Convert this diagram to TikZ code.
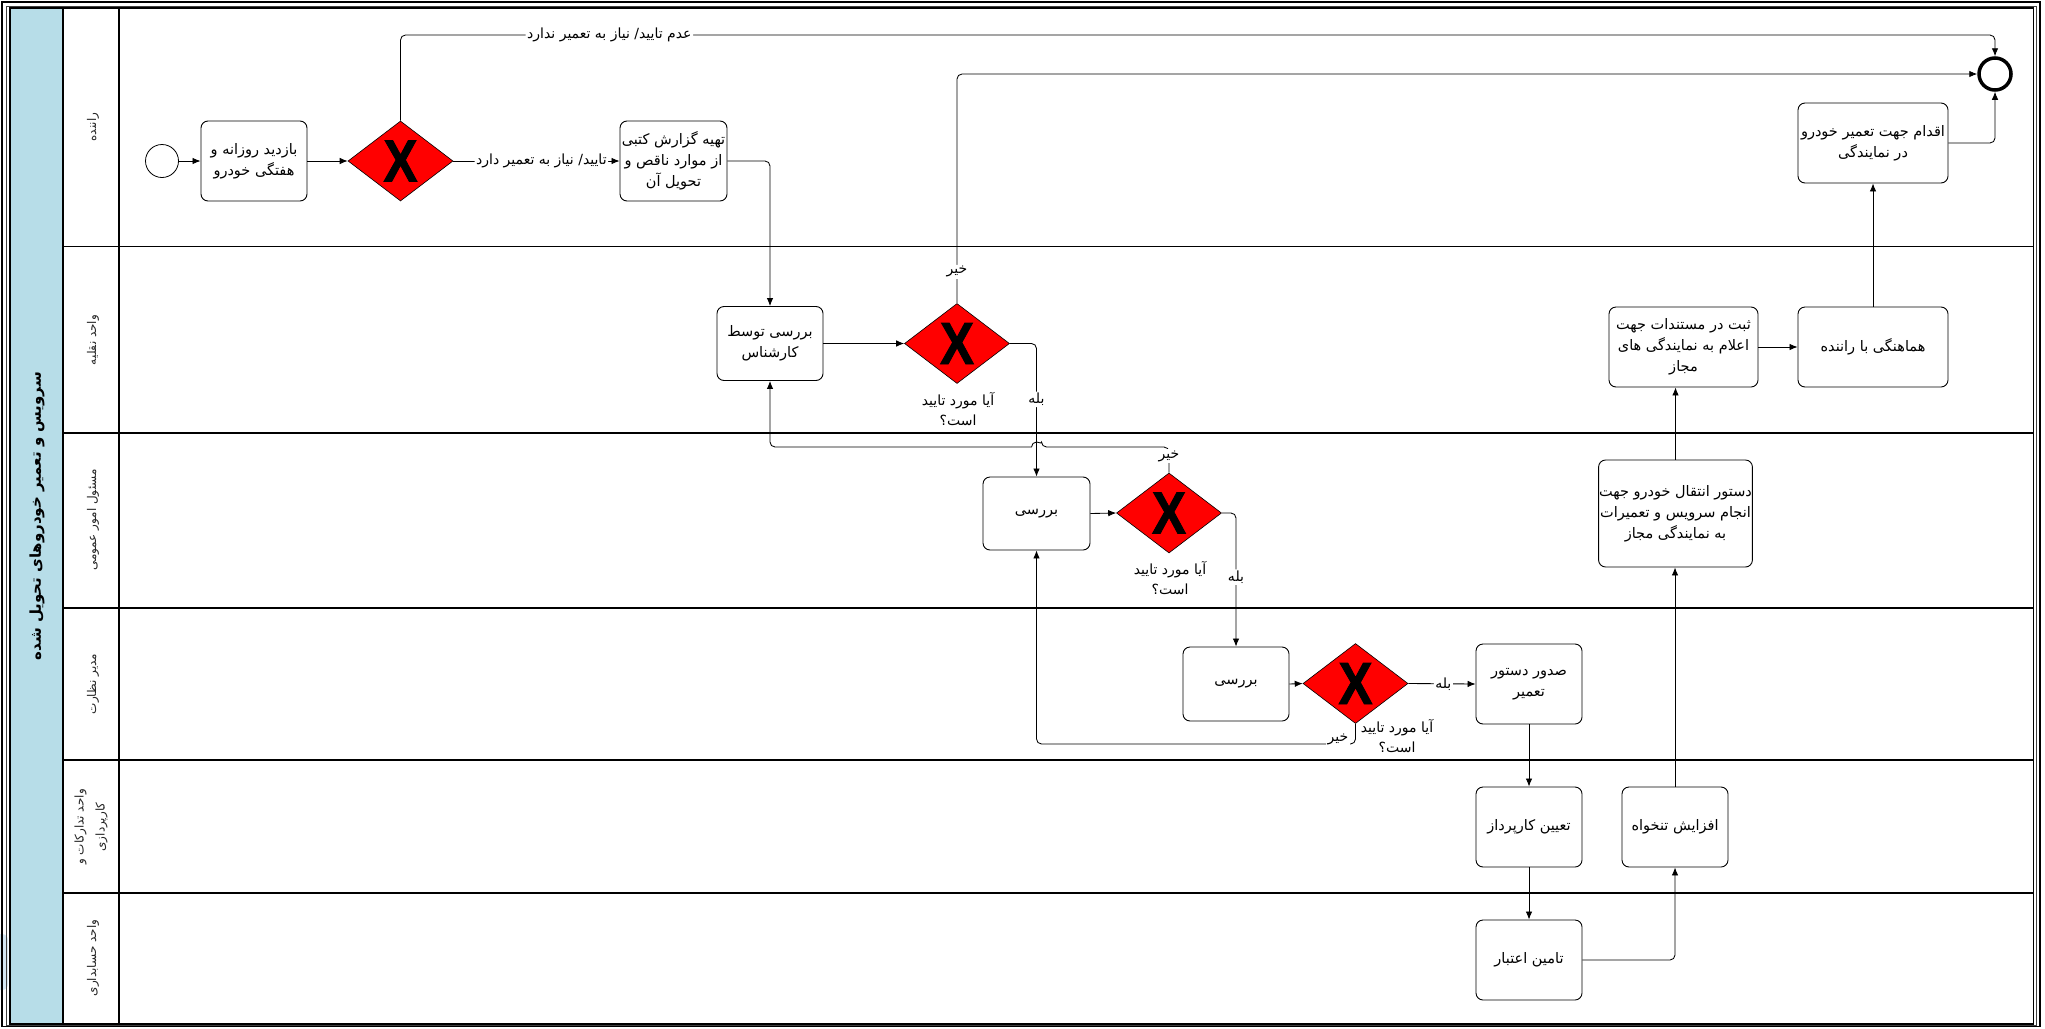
\documentclass[tikz,border=0pt]{standalone}
\usepackage{fontspec}
\usepackage{graphicx}
\usetikzlibrary{shapes.geometric,arrows.meta,calc}
\TeXXeTstate=1
\newfontfamily\fa[Script=Arabic]{DejaVu Sans}
\newfontface\xfont[FakeBold=1.6]{Liberation Sans Bold}
\newcommand\rl[1]{\beginR #1\endR}
\definecolor{poolblue}{HTML}{B7DDE8}
\definecolor{glow}{HTML}{D4E8F4}

\begin{document}
\begin{tikzpicture}[x=1pt,y=-1pt,
  task/.style={draw, rounded corners=7pt, line width=0.9pt, fill=white, align=center,
    inner xsep=0.5pt, inner ysep=2pt, font=\fa\fontsize{14.5}{21}\selectfont},
  gate/.style={diamond, draw, line width=0.6pt, fill=red, minimum width=105pt,
    minimum height=80pt, inner sep=0pt,
    path picture={\node at (path picture bounding box.center)
      {\resizebox{34pt}{41pt}{\xfont X}};}},
  flow/.style={line width=0.85pt, rounded corners=5pt, -{Latex[length=8pt,width=6.5pt]}},
  elabel/.style={fill=white, inner sep=1.5pt, font=\fa\fontsize{14}{16}\selectfont},
  qlabel/.style={align=center, inner sep=0pt, font=\fa\fontsize{14}{20}\selectfont},
  lanelabel/.style={rotate=90, align=center, font=\fa\fontsize{12}{21}\selectfont, text=black!85},
  lane/.style={line width=1.3pt}
]
\useasboundingbox (0,0) rectangle (2045,1028);

% soft blue mark at the left edge
\fill[glow, rounded corners=6pt] (-12,934) rectangle (8,990);

% outer double frame
\draw[line width=1.3pt] (2,2) rectangle (2040,1026.5);
\draw[line width=1pt, black!75] (6.5,6.5) rectangle (2036.5,1025);

% pool with its title band and lanes
\fill[poolblue] (10,8) rectangle (63,1024);
\draw[lane] (10,8) rectangle (2033.5,1024);
\draw[lane] (63,8) -- (63,1024);
\draw[lane] (119,8) -- (119,1024);
\foreach \yy in {246.5,433,608,760,893}
  \draw[lane] (63,\yy) -- (2033.5,\yy);

\node[rotate=90, font=\fa\bfseries\fontsize{15}{18}\selectfont] (title) at (37,516)
  {\rl{سرویس و تعمیر خودروهای تحویل شده}};

\node[lanelabel] (laneA) at (93,127) {\rl{راننده}};
\node[lanelabel] (laneB) at (93,340) {\rl{واحد نقلیه}};
\node[lanelabel] (laneC) at (93,520) {\rl{مسئول امور عمومی}};
\node[lanelabel] (laneD) at (93,684) {\rl{مدیر نظارت}};
\node[lanelabel] (laneE) at (91,827) {\rl{واحد تدارکات و}\\\rl{کارپردازی}};
\node[lanelabel] (laneF) at (93,958) {\rl{واحد حسابداری}};

% driver lane
\node[circle, draw, line width=0.8pt, minimum size=33pt, inner sep=0pt, fill=white] (start) at (162,161) {};
\node[task, minimum width=106pt, minimum height=80pt] (visit) at (254,161)
  {\rl{بازدید روزانه و}\\\rl{هفتگی خودرو}};
\node[gate] (gA) at (400.5,161) {};
\node[task, minimum width=107pt, minimum height=80pt] (report) at (673.5,161)
  {\rl{تهیه گزارش کتبی}\\\rl{از موارد ناقص و}\\\rl{تحویل آن}};
\node[task, minimum width=150pt, minimum height=80pt] (repair) at (1873,143)
  {\rl{اقدام جهت تعمیر خودرو}\\\rl{در نمایندگی}};
\node[circle, draw, line width=3.5pt, minimum size=32pt, inner sep=0pt, fill=white] (finish) at (1995,74) {};

% transport unit lane
\node[task, minimum width=106pt, minimum height=74pt] (expert) at (770,343.5)
  {\rl{بررسی توسط}\\\rl{کارشناس}};
\node[gate] (gB) at (957,343.5) {};
\node[qlabel] (qB) at (958,409) {\rl{آیا مورد تایید}\\\rl{است؟}};
\node[task, minimum width=149pt, minimum height=80pt] (record) at (1683.5,347)
  {\rl{ثبت در مستندات جهت}\\\rl{اعلام به نمایندگی های}\\\rl{مجاز}};
\node[task, minimum width=150pt, minimum height=80pt] (coord) at (1873,347)
  {\rl{هماهنگی با راننده}};

% general affairs lane
\node[task, minimum width=107pt, minimum height=73pt] (checkC) at (1036.5,513.5) {\rl{بررسی}};
\node[gate] (gC) at (1169,513) {};
\node[qlabel] (qC) at (1170,578) {\rl{آیا مورد تایید}\\\rl{است؟}};
\node[task, minimum width=149pt, minimum height=107pt] (order) at (1675.5,513.5)
  {\rl{دستور انتقال خودرو جهت}\\\rl{انجام سرویس و تعمیرات}\\\rl{به نمایندگی مجاز}};

% supervision lane
\node[task, minimum width=106pt, minimum height=74pt] (checkD) at (1236,684) {\rl{بررسی}};
\node[gate] (gD) at (1355.5,683.5) {};
\node[qlabel] (qD) at (1397,736) {\rl{آیا مورد تایید}\\\rl{است؟}};
\node[task, minimum width=106pt, minimum height=80pt] (issue) at (1529,684)
  {\rl{صدور دستور}\\\rl{تعمیر}};

% procurement lane
\node[task, minimum width=106pt, minimum height=80pt] (agent) at (1529,827) {\rl{تعیین کارپرداز}};
\node[task, minimum width=106pt, minimum height=80pt] (fund) at (1675,827) {\rl{افزایش تنخواه}};

% accounting lane
\node[task, minimum width=106pt, minimum height=80pt] (credit) at (1529,960) {\rl{تامین اعتبار}};

% routing levels
\coordinate (topy) at (0,35);
\coordinate (backB) at (0,447);
\coordinate (backD) at (0,744);

% sequence flows
\draw[flow] (start) -- (visit);
\draw[flow] (visit) -- (gA);
\draw[flow] (gA.east) -- node[elabel, pos=0.53] {\rl{تایید/ نیاز به تعمیر دارد}} (report.west);
\draw[flow] (gA.north) -- (gA.north |- topy)
  -- node[elabel, pos=0.131] {\rl{عدم تایید/ نیاز به تعمیر ندارد}} (finish.north |- topy)
  -- (finish.north);
\draw[flow] (report.east) -| (expert.north);
\draw[flow] (expert.east) -- (gB.west);
\draw[flow] (gB.north) -- node[elabel, pos=0.137] {\rl{خیر}} (gB.north |- finish.west) -- (finish.west);
\draw[flow] (gB.east) -| node[elabel, pos=0.71] {\rl{بله}} (checkC.north);
\draw[flow] (checkC.east) -- (gC.west);
\draw[flow] (gC.north) -- (gC.north |- backB)
  -- ($(checkC.north |- backB)+(5,0)$) {[sharp corners] arc[start angle=0, end angle=180, radius=5pt]}
  -- (expert.south |- backB) -- (expert.south);
\node[elabel] (noC) at (1169,456) {\rl{خیر}};
\draw[flow] (gC.east) -| node[elabel, pos=0.74] {\rl{بله}} (checkD.north);
\draw[flow] (checkD.east) -- (gD.west);
\draw[flow] (gD.east) -- node[elabel, pos=0.52] {\rl{بله}} (issue.west);
\draw[flow] (gD.south) -- (gD.south |- backD) -- (checkC.south |- backD) -- (checkC.south);
\node[elabel] (noD) at (1338,739) {\rl{خیر}};
\draw[flow] (issue) -- (agent);
\draw[flow] (agent) -- (credit);
\draw[flow] (credit.east) -| (fund.south);
\draw[flow] (fund.north) -- (fund.north |- order.south);
\draw[flow] (order.north) -- (order.north |- record.south);
\draw[flow] (record) -- (coord);
\draw[flow] (coord.north) -- (coord.north |- repair.south);
\draw[flow] (repair.east) -| (finish.south);
\end{tikzpicture}
\end{document}
